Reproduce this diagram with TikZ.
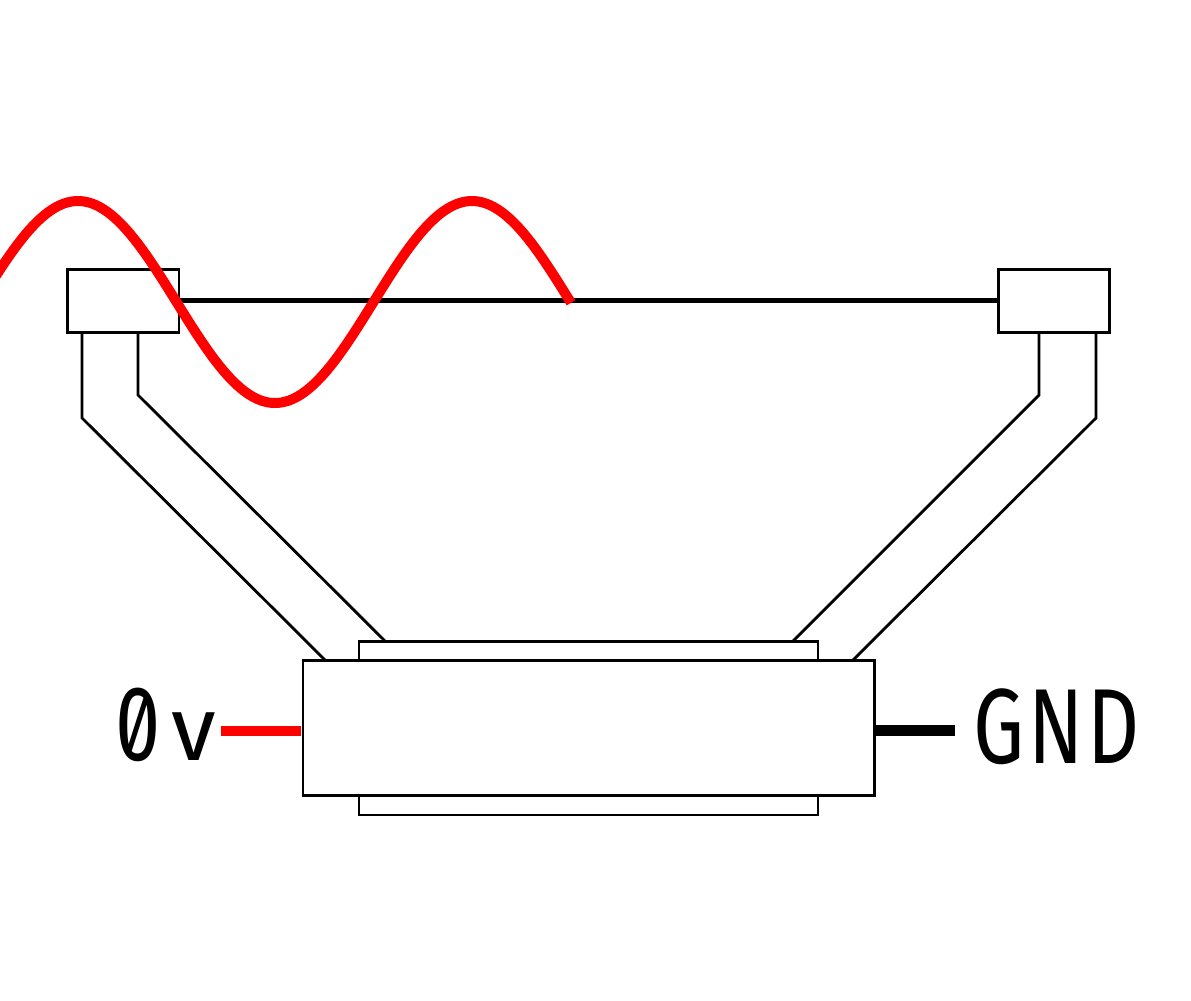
\documentclass[tikz,border=0pt]{standalone}
\usepackage{fontspec}
\usepackage{graphicx}
\newfontfamily\labelfont[RawFeature=+zero,FakeStretch=0.76,LetterSpace=3.5]{Fira Sans}
\tikzset{
  x=0.75pt,y=-0.75pt,
  outlinebox/.style={draw=black,line width=2.1pt,fill=white,rectangle,inner sep=0pt,outer sep=0pt,line join=miter},
  conewall/.style={draw=black,line width=2.1pt,line join=miter},
  signalred/.style={draw=red,line width=7.5pt},
  signalblack/.style={draw=black,line width=8pt},
  wave/.style={draw=red,line width=7.5pt,line join=round},
  lbl/.style={font=\labelfont\fontsize{80}{80}\selectfont,text=black,inner sep=0pt,anchor=base west}
}
\begin{document}
\begin{tikzpicture}
\useasboundingbox (0,0) rectangle (1191,1000);
\clip (0,0) rectangle (1191,1000);
% coil line
\node[outlinebox,minimum width=83.6pt,minimum height=47.25pt] (ltab) at (123.25,301.3) {};
\node[outlinebox,minimum width=83.6pt,minimum height=47.25pt] (rtab) at (1054,301.3) {};
\draw[black,line width=3.75pt] (ltab.east |- 0,300) coordinate (la) -- (rtab.west |- 0,300) coordinate (ra);
% magnet
\node[outlinebox,minimum width=344.25pt,minimum height=14.6pt] (ptop) at (588.5,651) {};
\node[outlinebox,minimum width=344.25pt,minimum height=14.6pt] (pbot) at (588.5,805.3) {};
\node[outlinebox,minimum width=428.6pt,minimum height=101.25pt] (mag) at (588.75,728) {};
% cone walls
\coordinate (c1) at (82,333); \coordinate (c1b) at (82,418); \coordinate (c1e) at (325,660);
\coordinate (c2) at (138,333); \coordinate (c2b) at (138,395); \coordinate (c2e) at (385,641);
\coordinate (c3) at (1039,333); \coordinate (c3b) at (1039,395); \coordinate (c3e) at (793,641);
\coordinate (c4) at (1096,333); \coordinate (c4b) at (1096,418); \coordinate (c4e) at (853,660);
\draw[conewall] (c1) -- (c1b) -- (c1e);
\draw[conewall] (c2) -- (c2b) -- (c2e);
\draw[conewall] (c3) -- (c3b) -- (c3e);
\draw[conewall] (c4) -- (c4b) -- (c4e);
% leads
\coordinate (redend) at (221,731);
\coordinate (blackend) at (955,730.5);
\draw[signalred] (redend) -- (301,731);
\draw[signalblack] (mag.east |- blackend) -- (blackend);
% labels
\node[lbl] (zv) at (115,760) {0\kern 8pt\scalebox{1.12}[0.85]{v}};
\node[lbl] (gnd) at (973,763) {GND};
% wave
\draw[wave,smooth] plot[domain=-10:571,samples=120,variable=\t] (\t,{302-101*sin((\t+20.5)/394*360)});
\end{tikzpicture}
\end{document}
